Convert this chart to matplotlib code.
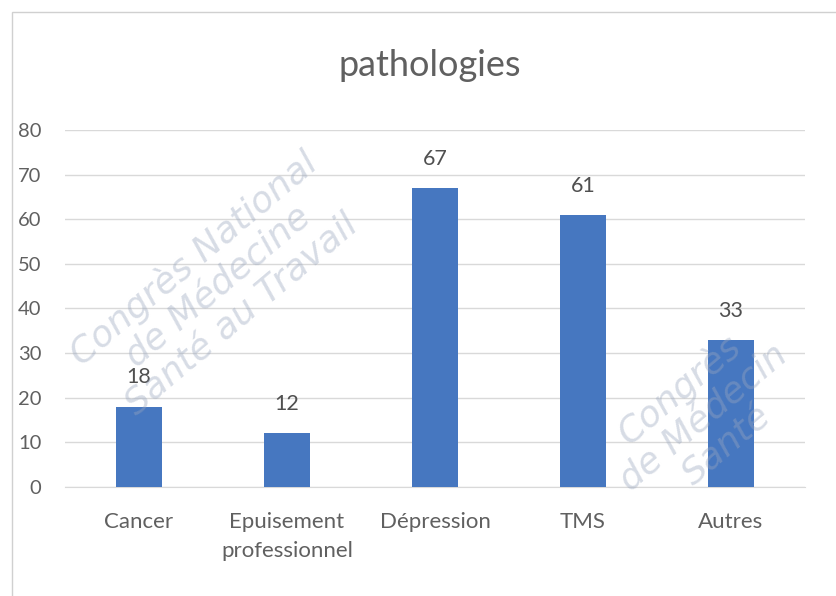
import matplotlib.pyplot as plt
from matplotlib.patches import Rectangle

categories = ["Cancer", "Epuisement\nprofessionnel", "Dépression", "TMS", "Autres"]
values = [18, 12, 67, 61, 33]
y_ticks = [0, 10, 20, 30, 40, 50, 60, 70, 80]

plt.rcParams['font.family'] = ['Lato', 'DejaVu Sans']

fig = plt.figure(figsize=(8.37, 5.96), dpi=100)
fig.patch.set_facecolor('white')

# chart frame
fig.patches.append(Rectangle((0.014, -0.05), 1.2, 1.03, transform=fig.transFigure,
                             fill=False, edgecolor='#d0d0d0', linewidth=1.0))

ax = fig.add_axes([0.0777, 0.1829, 0.8841, 0.599])
x = list(range(len(categories)))
ax.bar(x, values, width=0.31, color='#4677C0', zorder=3)

for xi, v in zip(x, values):
    ax.text(xi, v + 4.3, str(v), ha='center', va='bottom', fontsize=15.5, color='#505050', zorder=4)

ax.set_xlim(-0.5, len(categories) - 0.5)
ax.set_ylim(0, 80)
ax.set_yticks(y_ticks)
ax.set_xticks(x)
ax.set_xticklabels(categories, fontsize=16, color='#606060', linespacing=1.55)
ax.tick_params(axis='y', labelsize=14.5, labelcolor='#606060', length=0, pad=17)
ax.tick_params(axis='x', length=0, pad=18)
ax.yaxis.grid(True, color='#d9d9d9', linewidth=1.0, zorder=0)
for s in ['top', 'right', 'left']:
    ax.spines[s].set_visible(False)
ax.spines['bottom'].set_color('#d9d9d9')

fig.text(0.513, 0.89, "pathologies", ha='center', va='center', fontsize=26, color='#606060')

# faint watermark lettering
wm = dict(color='#9aa7bf', alpha=0.4, fontsize=26, style='italic', rotation=40,
          ha='center', va='center', family=['DejaVu Sans'], linespacing=1.1)
fig.text(0.26, 0.52, "Congrès National\nde Médecine\nSanté au Travail", **wm)
fig.text(0.84, 0.30, "Congrès\nde Médecin\nSanté", **wm)

fig.savefig("out.png", dpi=100, facecolor='white')
